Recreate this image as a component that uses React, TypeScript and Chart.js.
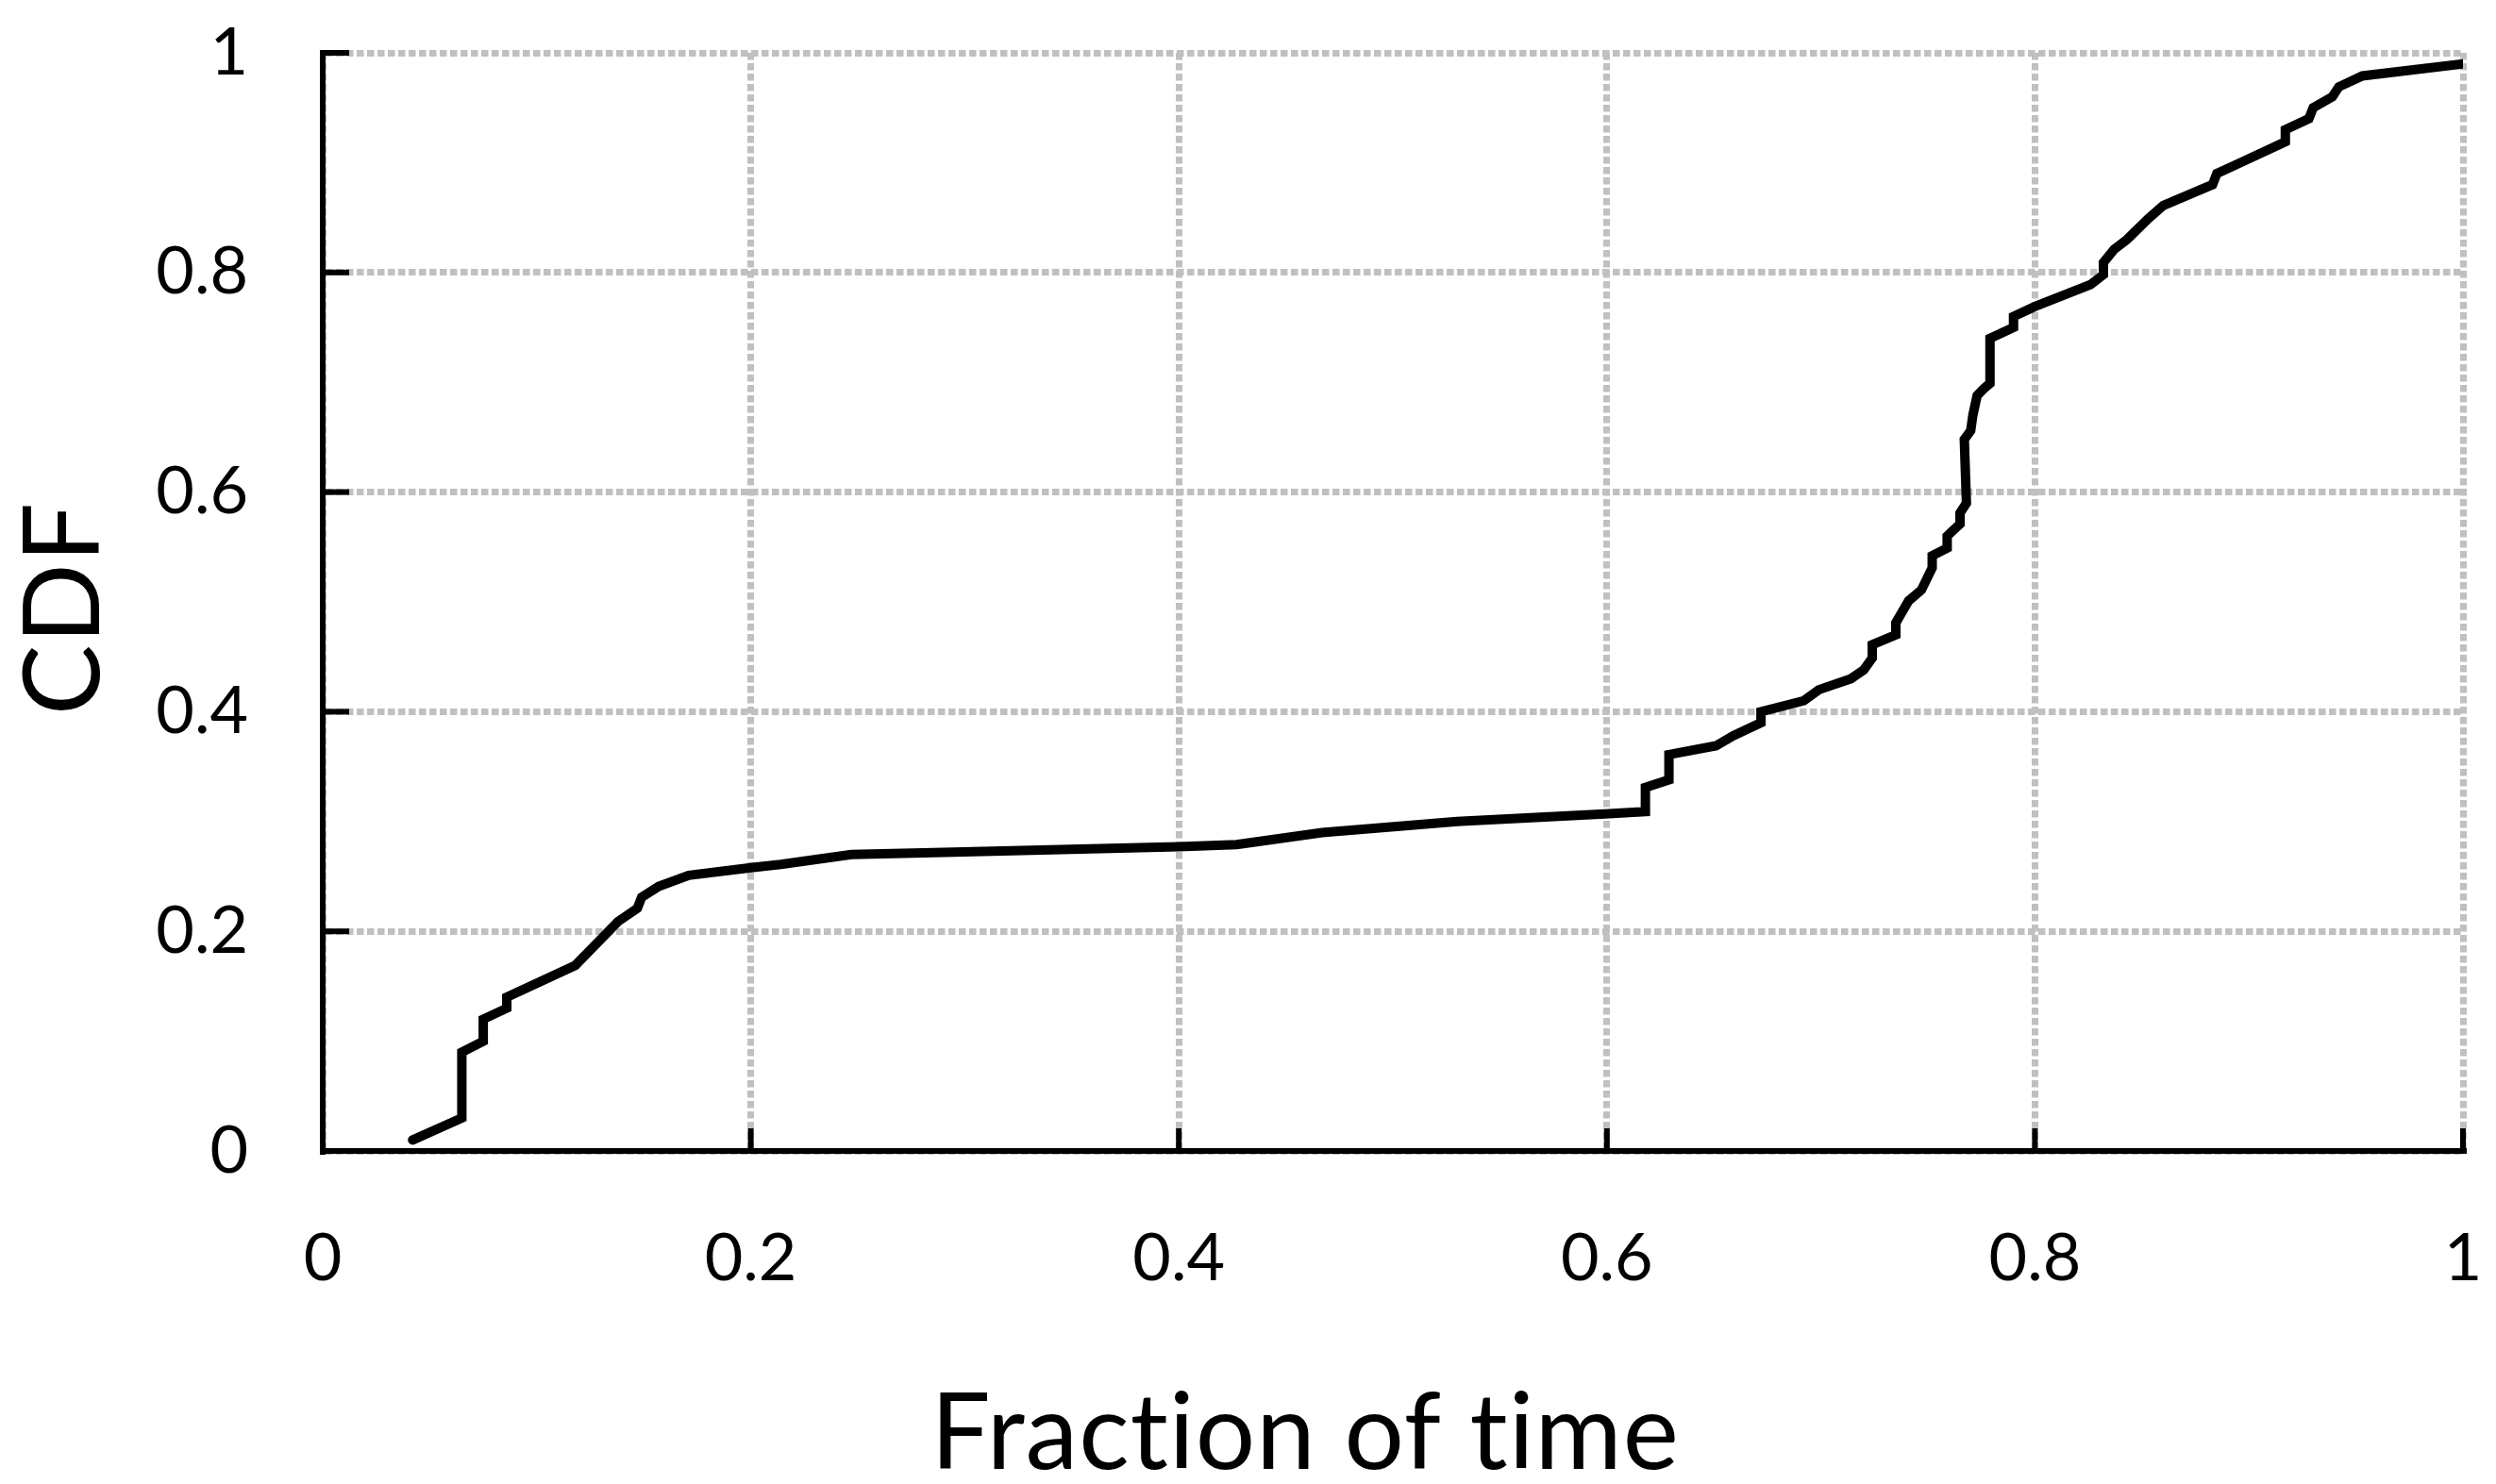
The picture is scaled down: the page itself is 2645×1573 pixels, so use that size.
import React, { useEffect, useRef } from "react";
import { Chart, registerables } from "chart.js";

Chart.register(...registerables);

const fractionOfTime = [
  0.042, 0.065, 0.065, 0.075, 0.075, 0.086, 0.086, 0.118, 0.138, 0.147, 0.149, 0.157, 0.171,
  0.2, 0.214, 0.247, 0.29, 0.4, 0.427, 0.467, 0.53, 0.599, 0.618, 0.618, 0.629, 0.629, 0.651,
  0.659, 0.672, 0.672, 0.692, 0.699, 0.714, 0.72, 0.724, 0.724, 0.735, 0.735, 0.741, 0.747,
  0.752, 0.752, 0.759, 0.759, 0.765, 0.765, 0.768, 0.767, 0.77, 0.771, 0.773, 0.776, 0.779,
  0.779, 0.79, 0.79, 0.8, 0.826, 0.832, 0.832, 0.837, 0.843, 0.853, 0.86, 0.883, 0.885, 0.895,
  0.917, 0.917, 0.928, 0.93, 0.939, 0.942, 0.953, 1.0,
];
const cdfValues = [
  0.01, 0.03, 0.09, 0.1, 0.12, 0.13, 0.14, 0.169, 0.209, 0.221, 0.231, 0.241, 0.251,
  0.258, 0.261, 0.27, 0.272, 0.277, 0.279, 0.29, 0.3, 0.307, 0.309, 0.331, 0.338, 0.361, 0.369,
  0.378, 0.39, 0.4, 0.41, 0.42, 0.43, 0.438, 0.449, 0.461, 0.47, 0.481, 0.501, 0.511,
  0.531, 0.542, 0.549, 0.56, 0.571, 0.581, 0.59, 0.648, 0.656, 0.67, 0.688, 0.694, 0.699,
  0.74, 0.75, 0.76, 0.769, 0.789, 0.798, 0.809, 0.821, 0.83, 0.849, 0.861, 0.88, 0.89, 0.899,
  0.919, 0.93, 0.94, 0.95, 0.96, 0.969, 0.979, 0.99,
];
const tickValues = [0, 0.2, 0.4, 0.6, 0.8, 1];
const tickLabels = ["0", "0.2", "0.4", "0.6", "0.8", "1"];
const xAxisTitle = "Fraction of time";
const yAxisTitle = "CDF";

const W = 2645;
const H = 1573;
const FONT = "Lato, 'Open Sans', sans-serif";

function labelFor(value: number) {
  const i = tickValues.findIndex((t) => Math.abs(t - value) < 1e-6);
  return i >= 0 ? tickLabels[i] : "";
}

function zeroPadding(scale: any) {
  scale.paddingTop = 0;
  scale.paddingBottom = 0;
  scale.paddingLeft = 0;
  scale.paddingRight = 0;
}

export default function App() {
  const ref = useRef<HTMLCanvasElement | null>(null);

  useEffect(() => {
    if (!ref.current) return;
    const points = fractionOfTime.map((x, i) => ({ x, y: cdfValues[i] }));

    const innerTicks = {
      id: "innerTicks",
      beforeDatasetsDraw(chart: any) {
        const { ctx, chartArea, scales } = chart;
        ctx.save();
        ctx.strokeStyle = "#000";
        ctx.lineWidth = 6;
        ctx.setLineDash([]);
        for (const v of tickValues) {
          if (v === 0) continue;
          const y = scales.y.getPixelForValue(v);
          ctx.beginPath();
          ctx.moveTo(chartArea.left, y);
          ctx.lineTo(chartArea.left + 28, y);
          ctx.stroke();
          const x = scales.x.getPixelForValue(v);
          ctx.beginPath();
          ctx.moveTo(x, chartArea.bottom);
          ctx.lineTo(x, chartArea.bottom - 24);
          ctx.stroke();
        }
        ctx.restore();
      },
    };

    const axisTitles = {
      id: "axisTitles",
      afterDraw(chart: any) {
        const { ctx } = chart;
        ctx.save();
        ctx.fillStyle = "#000";
        ctx.font = `112px ${FONT}`;
        try {
          (ctx as any).letterSpacing = "1px";
        } catch (e) {}
        ctx.textAlign = "center";
        ctx.textBaseline = "alphabetic";
        ctx.fillText(xAxisTitle, 1383, 1557);
        ctx.translate(105, 645);
        ctx.rotate(-Math.PI / 2);
        ctx.fillText(yAxisTitle, 0, 0);
        ctx.restore();
      },
    };

    const chart = new Chart(ref.current, {
      type: "scatter",
      data: {
        datasets: [
          {
            data: points,
            showLine: true,
            borderColor: "#000",
            backgroundColor: "#000",
            borderWidth: 10,
            pointRadius: 0,
            borderCapStyle: "round",
            borderJoinStyle: "miter",
          },
        ],
      },
      options: {
        animation: false,
        responsive: false,
        devicePixelRatio: 1,
        layout: { padding: { top: 56, right: 35, left: 0, bottom: 0 } },
        plugins: { legend: { display: false }, tooltip: { enabled: false } },
        scales: {
          x: {
            type: "linear",
            min: 0,
            max: 1,
            afterBuildTicks(scale: any) {
              scale.ticks = tickValues.map((value) => ({ value }));
            },
            ticks: {
              color: "#000",
              padding: 72,
              font: { family: FONT, size: 70 },
              maxRotation: 0,
              callback: (v: any) => labelFor(Number(v)),
            },
            grid: { color: "#c0c0c0", lineWidth: 7, drawTicks: false },
            border: { display: true, color: "#000", width: 6, dash: [7.5, 3.5] },
            afterFit(scale: any) {
              scale.height = H - 1220;
              zeroPadding(scale);
            },
          },
          y: {
            type: "linear",
            min: 0,
            max: 1,
            afterBuildTicks(scale: any) {
              scale.ticks = tickValues.map((value) => ({ value }));
            },
            ticks: {
              color: "#000",
              padding: 79,
              font: { family: FONT, size: 70 },
              callback: (v: any) => labelFor(Number(v)),
            },
            grid: { color: "#c0c0c0", lineWidth: 7, drawTicks: false },
            border: { display: true, color: "#000", width: 6, dash: [7.5, 3.5] },
            afterFit(scale: any) {
              scale.width = 342;
              zeroPadding(scale);
            },
          },
        },
      },
      plugins: [innerTicks, axisTitles],
    } as any);

    return () => chart.destroy();
  }, []);

  return (
    <div style={{ position: "absolute", left: 0, top: 0, width: W, height: H, background: "#fff" }}>
      <canvas ref={ref} width={W} height={H} style={{ display: "block", width: W, height: H }} />
    </div>
  );
}
